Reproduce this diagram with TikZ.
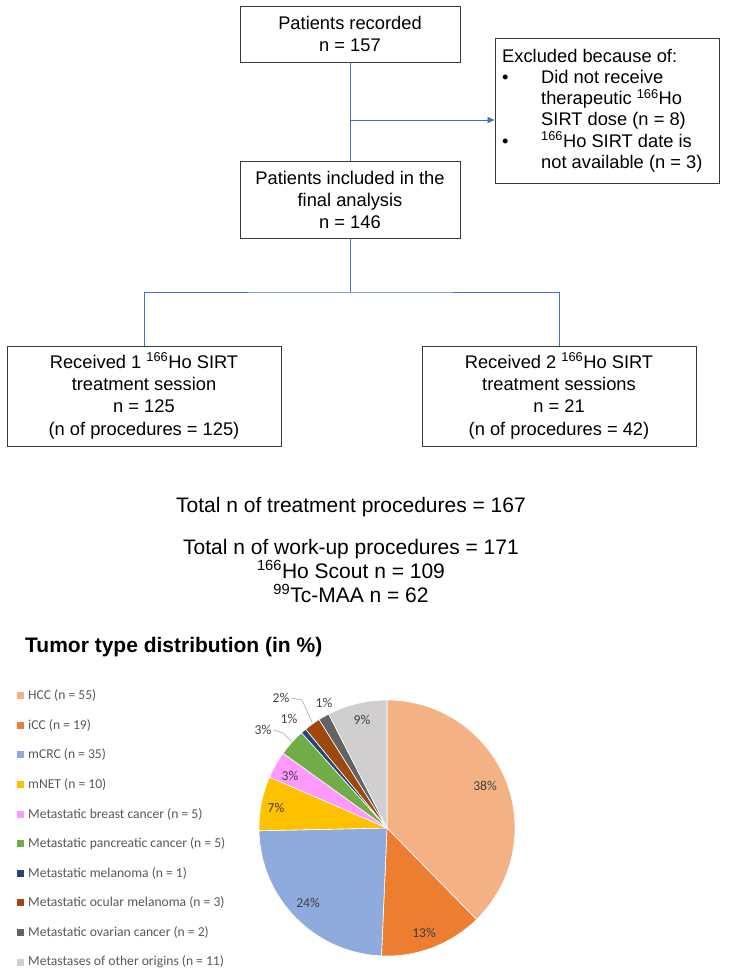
\documentclass[tikz,border=0pt]{standalone}
\usepackage{fontspec}
\setmainfont{Liberation Sans}
\newfontfamily\carlito{Carlito}
\usetikzlibrary{arrows.meta}
\definecolor{boxc}{HTML}{3A3A3A}
\definecolor{connc}{HTML}{4472C4}
\definecolor{hcc}{HTML}{F4B183}
\definecolor{icc}{HTML}{ED7D31}
\definecolor{mcrc}{HTML}{8FAADC}
\definecolor{mnet}{HTML}{FFC000}
\definecolor{brst}{HTML}{FF99FF}
\definecolor{panc}{HTML}{70AD47}
\definecolor{mel}{HTML}{264478}
\definecolor{ocu}{HTML}{9E480E}
\definecolor{ova}{HTML}{636363}
\definecolor{oth}{HTML}{D0CECE}
\definecolor{legtxt}{HTML}{595959}
\definecolor{pcttxt}{HTML}{404040}
\definecolor{leadc}{HTML}{A6A6A6}
\newcommand\pieslice[3]{\filldraw[fill=#1, draw=white, line width=0.6pt] (pc) -- ++(#2:128) arc[start angle=#2, end angle=#3, radius=128] -- cycle;}
\begin{document}
\begin{tikzpicture}[x=1pt,y=-1pt,
  flowbox/.style={draw=boxc, line width=0.9pt, align=center, inner sep=0pt, font=\fontsize{18.3}{22}\selectfont},
  conn/.style={draw=connc, line width=0.7pt},
  bigtext/.style={anchor=base, inner sep=0pt, font=\fontsize{21}{25}\selectfont},
  legtext/.style={anchor=west, inner sep=0pt, text=legtxt, font=\carlito\fontsize{13.6}{16}\selectfont},
  pct/.style={inner sep=0pt, text=pcttxt, font=\carlito\fontsize{13.6}{16}\selectfont},
  leader/.style={draw=leadc, line width=0.6pt}]
\useasboundingbox (0,0) rectangle (731,974);
\fill[white] (0,0) rectangle (731,974);

% flowchart
\node[flowbox, minimum width=220pt, minimum height=56pt] (rec) at (350,34) {Patients recorded\\n = 157};
\node[flowbox, minimum width=220pt, minimum height=77pt] (inc) at (350,199.5) {Patients included in the\\final analysis\\n = 146};
\node[flowbox, minimum width=224pt, minimum height=145pt] (exc) at (607,110.5) {};
\node[anchor=north west, inner sep=0pt, font=\fontsize{18.3}{21}\selectfont] (exctext) at (502,47.3)
 {\begin{tabular}{@{}p{39pt}@{}l@{}}
 \multicolumn{2}{@{}l@{}}{Excluded because of:}\\
 • & Did not receive\\
   & therapeutic \textsuperscript{166}Ho\\
   & SIRT dose (n = 8)\\
 • & \textsuperscript{166}Ho SIRT date is\\
   & not available (n = 3)
 \end{tabular}};
\node[flowbox, minimum width=274pt, minimum height=100pt, font=\fontsize{18.3}{22.3}\selectfont] (one) at (144,396)
 {Received 1 \textsuperscript{166}Ho SIRT\\treatment session\\n = 125\\(n of procedures = 125)};
\node[flowbox, minimum width=274pt, minimum height=100pt, font=\fontsize{18.3}{22.3}\selectfont] (two) at (559,396)
 {Received 2 \textsuperscript{166}Ho SIRT\\treatment sessions\\n = 21\\(n of procedures = 42)};

\coordinate (br) at (350,120);
\coordinate (split) at (350,292);
\draw[conn] (rec.south) -- (inc.north);
\draw[conn, -{Triangle[length=7pt,width=6pt]}] (br) -- (br -| exc.west);
\draw[conn] (inc.south) -- (split);
\draw[conn] (one.north) |- (split) -| (two.north);

% totals
\node[bigtext] (tot1) at (351,512) {Total n of treatment procedures = 167};
\node[bigtext] (tot2) at (351,554) {Total n of work-up procedures = 171};
\node[bigtext] (tot3) at (351,578) {\textsuperscript{166}Ho Scout n = 109};
\node[bigtext] (tot4) at (351,602) {\textsuperscript{99}Tc-MAA n = 62};

% chart title
\node[anchor=base west, inner sep=0pt, font=\bfseries\fontsize{21}{25}\selectfont] (title) at (25,652) {Tumor type distribution (in \%)};

% legend
\foreach \c/\t [count=\i from 0] in {hcc/HCC (n = 55), icc/iCC (n = 19), mcrc/mCRC (n = 35), mnet/mNET (n = 10), brst/Metastatic breast cancer (n = 5), panc/Metastatic pancreatic cancer (n = 5), mel/Metastatic melanoma (n = 1), ocu/Metastatic ocular melanoma (n = 3), ova/Metastatic ovarian cancer (n = 2), oth/Metastases of other origins (n = 11)}{
  \fill[\c] (17,{692+29.63*\i}) rectangle ++(7,7);
  \node[legtext] (leg\i) at (28,{695.5+29.63*\i}) {\t};
}

% pie
\coordinate (pc) at (387,828);
\pieslice{hcc}{-90}{45.616}
\pieslice{icc}{45.616}{92.466}
\pieslice{mcrc}{92.466}{178.767}
\pieslice{mnet}{178.767}{203.425}
\pieslice{brst}{203.425}{215.753}
\pieslice{panc}{215.753}{228.082}
\pieslice{mel}{228.082}{230.548}
\pieslice{ocu}{230.548}{237.945}
\pieslice{ova}{237.945}{242.877}
\pieslice{oth}{242.877}{270}

% percentage labels
\node[pct] (p38) at (485,786) {38\%};
\node[pct] (p13) at (424,933) {13\%};
\node[pct] (p24) at (308,903) {24\%};
\node[pct] (p7) at (276,808) {7\%};
\node[pct] (p3a) at (290,776) {3\%};
\node[pct] (p3b) at (263,730) {3\%};
\node[pct] (p1a) at (289,719) {1\%};
\node[pct] (p2) at (281,698) {2\%};
\node[pct] (p1b) at (324,703) {1\%};
\node[pct] (p9) at (362,720) {9\%};

\coordinate (l3a) at (283,733);
\coordinate (l3b) at (292,742);
\draw[leader] (p3b.east) ++(2,0) -- (l3a) -- (l3b);
\coordinate (l2a) at (302,700);
\coordinate (l2b) at (312,722);
\draw[leader] (p2.east) ++(2,0) -- (l2a) -- (l2b);
\end{tikzpicture}
\end{document}
